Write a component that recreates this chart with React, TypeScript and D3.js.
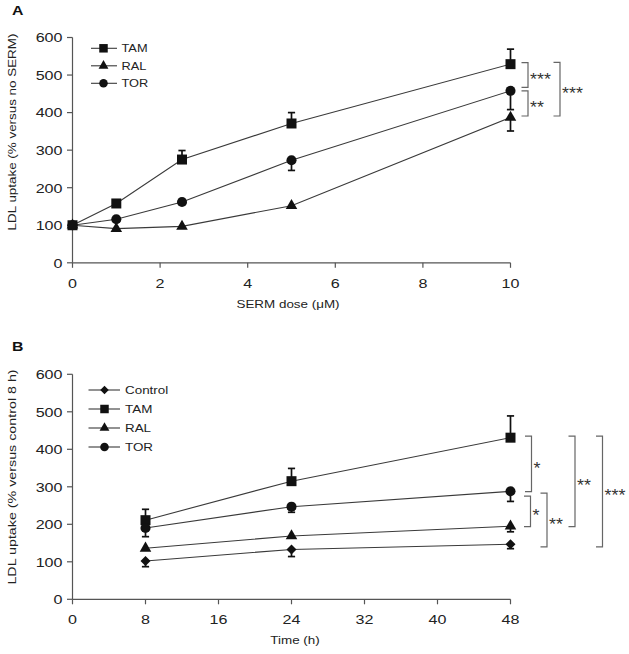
import React from "react";
import * as d3 from "d3";

// ---------- Data ----------
const doseA = [0, 1, 2.5, 5, 10];
const tamA = [100, 158, 275, 371, 529];
const tamAErr = [0, 4, 24, 29, 40];
const ralA = [100, 91, 97, 152, 387];
const ralAErr = [0, 4, 4, 4, 36];
const torA = [100, 116, 162, 273, 458];
const torAErr = [0, 4, 4, 27, 50];

const timeB = [8, 24, 48];
const controlB = [102, 133, 147];
const controlBErr = [15, 19, 12];
const tamB = [211, 315, 431];
const tamBErr = [29, 34, 58];
const ralB = [136, 169, 195];
const ralBErr = [4, 4, 15];
const torB = [190, 247, 288];
const torBErr = [23, 15, 27];

const xTicksA = [0, 2, 4, 6, 8, 10];
const xTicksB = [0, 8, 16, 24, 32, 40, 48];
const yTicks = [0, 100, 200, 300, 400, 500, 600];

const sigATop = [533, 458, 534];
const sigABottom = [467, 391, 391];
const sigALabels = ["***", "**", "***"];

const sigBTop = [435, 275, 283, 435, 435];
const sigBBottom = [287, 194, 140, 194, 140];
const sigBLabels = ["*", "*", "**", "**", "***"];

// ---------- Layout ----------
const W = 629;
const H = 654;
const SX = 1.22;
const FONT = "'Liberation Sans', Arial, Helvetica, sans-serif";
const sigAX = [528, 528, 560];
const sigBX = [531.5, 530.5, 547, 575, 602.5];

type Shape = "square" | "triangle" | "circle" | "diamond";

function symbolPath(shape: Shape, scale = 1): string {
  if (shape === "diamond") {
    const r = 5 * scale;
    return `M0,${-r}L${r},0L0,${r}L${-r},0Z`;
  }
  const map: Record<string, [d3.SymbolType, number]> = {
    square: [d3.symbolSquare, 100],
    triangle: [d3.symbolTriangle, 58],
    circle: [d3.symbolCircle, 80],
  };
  const [t, s] = map[shape];
  return d3.symbol().type(t).size(s * scale * scale)() as string;
}

function T(props: {
  x: number;
  y: number;
  size: number;
  anchor?: string;
  rotate?: number;
  sx?: number;
  weight?: string | number;
  fill?: string;
  children: React.ReactNode;
}) {
  const { x, y, size, anchor = "start", rotate = 0, sx = SX, weight = "normal", fill = "#222" } = props;
  return (
    <text
      transform={`translate(${x},${y}) rotate(${rotate}) scale(${sx},1)`}
      fontSize={size}
      fontFamily={FONT}
      textAnchor={anchor}
      fontWeight={weight}
      fill={fill}
    >
      {props.children}
    </text>
  );
}

interface Series {
  name: string;
  shape: Shape;
  values: number[];
  err: number[];
  dir: number;
}

function Panel(props: {
  letter: string;
  letterY: number;
  xs: number[];
  series: Series[];
  xDomain: [number, number];
  xTicks: number[];
  yRange: [number, number];
  xTitle: string;
  xTitleX: number;
  yTitle: string;
  yTitleY: number;
  yTitleSize: number;
  legendX: [number, number, number, number];
  legendY0: number;
  legendStep: number;
  legendSize: number;
  sigTop: number[];
  sigBottom: number[];
  sigLabels: string[];
  sigX: number[];
}) {
  const p = props;
  const x = d3.scaleLinear().domain(p.xDomain).range([72.5, 510.5]);
  const y = d3.scaleLinear().domain([0, 600]).range(p.yRange);
  const y0 = y(0);
  const axisColor = "#555";
  const line = d3
    .line<number>()
    .x((_, i) => x(p.xs[i]))
    .y((v) => y(v));

  return (
    <g>
      <T x={12} y={p.letterY} size={13} weight="bold" fill="#111">
        {p.letter}
      </T>
      {/* axes */}
      <line x1={72.5} x2={72.5} y1={y(600)} y2={y0} stroke={axisColor} strokeWidth={1.2} />
      <line x1={72.5} x2={x(p.xDomain[1])} y1={y0} y2={y0} stroke={axisColor} strokeWidth={1.2} />
      {yTicks.map((t) => (
        <g key={"yt" + t}>
          <line x1={67} x2={72.5} y1={y(t)} y2={y(t)} stroke={axisColor} strokeWidth={1.2} />
          <T x={62.5} y={y(t) + 4.8} size={13.2} anchor="end">
            {t}
          </T>
        </g>
      ))}
      {p.xTicks.map((t) => (
        <g key={"xt" + t}>
          <line x1={x(t)} x2={x(t)} y1={y0} y2={y0 + 5} stroke={axisColor} strokeWidth={1.2} />
          <T x={x(t)} y={y0 + 25} size={13.2} anchor="middle">
            {t}
          </T>
        </g>
      ))}
      <T x={p.xTitleX} y={y0 + 45} size={11} anchor="middle">
        {p.xTitle}
      </T>
      <T x={16} y={p.yTitleY} size={p.yTitleSize} anchor="middle" rotate={-90}>
        {p.yTitle}
      </T>
      {/* lines */}
      {p.series.map((s) => (
        <path key={"l" + s.name} d={line(s.values) as string} fill="none" stroke="#3a3a3a" strokeWidth={1.1} />
      ))}
      {/* error bars */}
      {p.series.map((s) =>
        s.values.map((v, i) => {
          if (!s.err[i]) return null;
          const cx = x(p.xs[i]);
          const ye = y(v + s.dir * s.err[i]);
          return (
            <g key={"e" + s.name + i}>
              <line x1={cx} x2={cx} y1={y(v)} y2={ye} stroke="#111" strokeWidth={1.7} />
              <line x1={cx - 3.6} x2={cx + 3.6} y1={ye} y2={ye} stroke="#111" strokeWidth={1.7} />
            </g>
          );
        })
      )}
      {/* markers */}
      {p.series.map((s) =>
        s.values.map((v, i) => (
          <path
            key={"m" + s.name + i}
            d={symbolPath(s.shape)}
            transform={`translate(${x(p.xs[i])},${y(v)})`}
            fill="#111"
          />
        ))
      )}
      {/* legend */}
      {p.series.map((s, i) => {
        const ly = p.legendY0 + i * p.legendStep;
        return (
          <g key={"lg" + s.name}>
            <line x1={p.legendX[0]} x2={p.legendX[2]} y1={ly} y2={ly} stroke="#3a3a3a" strokeWidth={1.1} />
            <path d={symbolPath(s.shape, 0.85)} transform={`translate(${p.legendX[1]},${ly})`} fill="#111" />
            <T x={p.legendX[3]} y={ly + 4} size={p.legendSize}>
              {s.name}
            </T>
          </g>
        );
      })}
      {/* significance brackets */}
      {p.sigLabels.map((lab, i) => {
        const bx = p.sigX[i];
        const yt = y(p.sigTop[i]);
        const yb = y(p.sigBottom[i]);
        return (
          <g key={"sig" + i}>
            <path
              d={`M${bx - 6.5},${yt}H${bx}V${yb}H${bx - 6.5}`}
              fill="none"
              stroke="#666"
              strokeWidth={1.2}
            />
            <T x={bx + 2} y={(yt + yb) / 2 + 10} size={17} sx={1.05} fill="#333">
              {lab}
            </T>
          </g>
        );
      })}
    </g>
  );
}

export default function App() {
  const seriesA: Series[] = [
    { name: "TAM", shape: "square", values: tamA, err: tamAErr, dir: 1 },
    { name: "RAL", shape: "triangle", values: ralA, err: ralAErr, dir: -1 },
    { name: "TOR", shape: "circle", values: torA, err: torAErr, dir: -1 },
  ];
  const seriesB: Series[] = [
    { name: "Control", shape: "diamond", values: controlB, err: controlBErr, dir: -1 },
    { name: "TAM", shape: "square", values: tamB, err: tamBErr, dir: 1 },
    { name: "RAL", shape: "triangle", values: ralB, err: ralBErr, dir: -1 },
    { name: "TOR", shape: "circle", values: torB, err: torBErr, dir: -1 },
  ];
  return (
    <svg
      width={W}
      height={H}
      style={{ position: "absolute", left: 0, top: 0, background: "#fff" }}
    >
      <rect width={W} height={H} fill="#fff" />
      <Panel
        letter="A"
        letterY={14.5}
        xs={doseA}
        series={seriesA}
        xDomain={[0, 10]}
        xTicks={xTicksA}
        yRange={[262.8, 37.5]}
        xTitle="SERM dose (μM)"
        xTitleX={288}
        yTitle="LDL uptake (% versus no SERM)"
        yTitleY={132}
        yTitleSize={11}
        legendX={[91, 103.5, 117, 121.5]}
        legendY0={48.3}
        legendStep={17.5}
        legendSize={10.5}
        sigTop={sigATop}
        sigBottom={sigABottom}
        sigLabels={sigALabels}
        sigX={sigAX}
      />
      <Panel
        letter="B"
        letterY={351}
        xs={timeB}
        series={seriesB}
        xDomain={[0, 48]}
        xTicks={xTicksB}
        yRange={[599.3, 374.3]}
        xTitle="Time (h)"
        xTitleX={295}
        yTitle="LDL uptake (% versus control 8 h)"
        yTitleY={477}
        yTitleSize={11.7}
        legendX={[88.5, 104.5, 120, 125]}
        legendY0={390}
        legendStep={19}
        legendSize={11}
        sigTop={sigBTop}
        sigBottom={sigBBottom}
        sigLabels={sigBLabels}
        sigX={sigBX}
      />
    </svg>
  );
}
